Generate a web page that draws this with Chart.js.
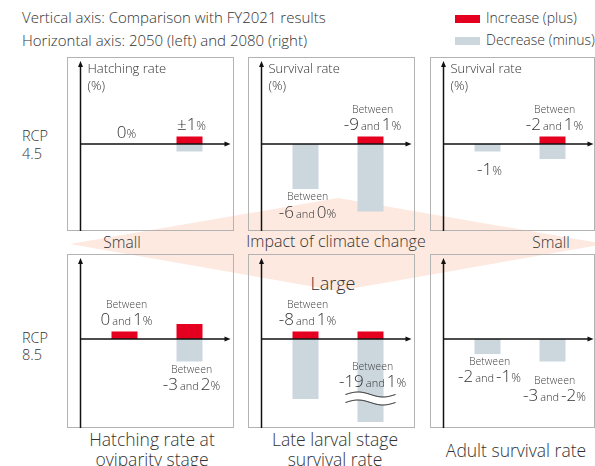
<!DOCTYPE html>
<html><head><meta charset="utf-8">
<script src="https://cdn.jsdelivr.net/npm/chart.js@4.4.1/dist/chart.umd.min.js"></script>
<style>
html,body{margin:0;padding:0;background:#fff;}
#page{position:relative;width:595px;height:466px;overflow:hidden;font-family:"Open Sans",Lato,sans-serif;font-weight:300;color:#333;}
.t{position:absolute;white-space:nowrap;line-height:1;}
.c{transform:translateX(-50%);}
.panel{position:absolute;}
</style></head><body>
<div id="page">
<svg width="595" height="466" style="position:absolute;left:0;top:0"><polygon points="70,244 338,198 605,244 338,291" fill="#fde9e0"/></svg>
<div id="texts"></div>
</div>
<script>
// ---------- data ----------
const categories = ['2050', '2080'];
const rowNames = [['RCP', '4.5'], ['RCP', '8.5']];
const indicatorNames = [['Hatching rate at', 'oviparity stage'], ['Late larval stage', 'survival rate'], ['Adult survival rate']];
const panelTitles = [['Hatching rate', '(%)'], ['Survival rate', '(%)'], ['Survival rate', '(%)']];
const headerLines = ['Vertical axis: Comparison with FY2021 results', 'Horizontal axis: 2050 (left) and 2080 (right)'];
const legendNames = ['Increase (plus)', 'Decrease (minus)'];
const impactLabels = ['Small', 'Impact of climate change', 'Small', 'Large'];

// RCP 4.5 (top row): [2050, 2080] per indicator
const increaseRcp45 = [[0, 1], [0, 1], [0, 1]];
const decreaseRcp45 = [[0, -1], [-6, -9], [-1, -2]];
// RCP 8.5 (bottom row)
const increaseRcp85 = [[1, 2], [1, 1], [0, 0]];
const decreaseRcp85 = [[0, -3], [-8, -19], [-2, -3]];

const valueLabelsRcp45 = [['0%', '±1%'], ['Between -6 and 0%', 'Between -9 and 1%'], ['-1%', 'Between -2 and 1%']];
const valueLabelsRcp85 = [['Between 0 and 1%', 'Between -3 and 2%'], ['Between -8 and 1%', 'Between -19 and 1%'], ['Between -2 and -1%', 'Between -3 and -2%']];

// ---------- layout / style ----------
const RED = '#e60020', GREY = '#cbd6dd', INK = '#333';
const FONT = '"Open Sans", Lato, sans-serif';
const panelLeft = [67, 248, 430];
const panelWidth = [167, 167, 165];
const panelTop = [57, 254];
const PH = 174;
const rowScale = [{min: -11.6, max: 11.6, pb: 0}, {min: -11.07, max: 11.33, pb: 6}];
// label placement: side, extra offset
const placeRcp45 = [[['above', 0], ['above', 0]], [['below', 0], ['above', 0]], [['below', 0], ['above', 0]]];
const placeRcp85 = [[['above', 0], ['below', 0]], [['above', 0], ['over', 0]], [['below', 0], ['below', 11]]];
const breakMark = [[1, 1, 1]]; // row 1, panel 1, bar 1 broken

// ---------- HTML texts ----------
const T = document.getElementById('texts');
function addText(txt, x, cy, size, center, extra) {
  const d = document.createElement('div');
  d.className = 't' + (center ? ' c' : '');
  d.textContent = txt;
  d.style.left = x + 'px';
  d.style.top = (cy - size * 0.6) + 'px';
  d.style.fontSize = size + 'px';
  if (extra) Object.assign(d.style, extra);
  T.appendChild(d);
}
addText(headerLines[0], 22, 19, 15, false);
addText(headerLines[1], 22, 42, 15, false);
[[RED, 15, 19], [GREY, 37, 41]].forEach((s, i) => {
  const r = document.createElement('div');
  r.style.cssText = `position:absolute;left:455px;top:${s[1]}px;width:25px;height:8px;background:${s[0]}`;
  T.appendChild(r);
  addText(legendNames[i], 486, s[2], 14, false);
});
addText(rowNames[0][0], 22, 138, 14.5, false);
addText(rowNames[0][1], 22, 156, 14.5, false);
addText(rowNames[1][0], 22, 340, 14.5, false);
addText(rowNames[1][1], 22, 357, 14.5, false);
addText(impactLabels[0], 122, 244, 15.5, true);
addText(impactLabels[1], 336, 243, 16, true);
addText(impactLabels[2], 551, 244, 15.5, true);
addText(impactLabels[3], 333, 285, 18, true);
addText(indicatorNames[0][0], 152, 441, 17.5, true);
addText(indicatorNames[0][1], 152, 461, 17.5, true);
addText(indicatorNames[1][0], 335, 441, 17.5, true);
addText(indicatorNames[1][1], 335, 461, 17.5, true);
addText(indicatorNames[2][0], 516, 452, 17.5, true);

// ---------- drawing helpers ----------
function fontFor(t) {
  if (/\d/.test(t)) return '300 17px ' + FONT;
  if (t === '%') return '300 12px ' + FONT;
  return '300 11px ' + FONT;
}
function drawMixed(ctx, text, cx, cy) {
  const tokens = text.match(/[-±]?\d+|and|%|\s+/g) || [];
  const w = []; let total = 0;
  tokens.forEach(t => {
    ctx.font = fontFor(t);
    const tw = /^\s+$/.test(t) ? 2 : ctx.measureText(t).width;
    w.push(tw); total += tw;
  });
  let x = cx - total / 2;
  ctx.textAlign = 'left'; ctx.textBaseline = 'alphabetic'; ctx.fillStyle = INK;
  tokens.forEach((t, i) => {
    if (!/^\s+$/.test(t)) { ctx.font = fontFor(t); ctx.fillText(t, x, cy + 6); }
    x += w[i];
  });
}
function drawLabel(ctx, text, cx, bigCy, hasBetween) {
  if (hasBetween) {
    ctx.font = '300 10.5px ' + FONT; ctx.fillStyle = '#444';
    ctx.textAlign = 'center'; ctx.textBaseline = 'middle';
    ctx.fillText('Between', cx, bigCy - 14);
  }
  drawMixed(ctx, text, cx, bigCy);
}

function makePanel(row, col) {
  const W = panelWidth[col];
  const wrap = document.createElement('div');
  wrap.className = 'panel';
  wrap.style.left = panelLeft[col] + 'px';
  wrap.style.top = panelTop[row] + 'px';
  const cv = document.createElement('canvas');
  cv.width = W; cv.height = PH;
  wrap.appendChild(cv);
  document.getElementById('page').appendChild(wrap);
  const inc = row === 0 ? increaseRcp45[col] : increaseRcp85[col];
  const dec = row === 0 ? decreaseRcp45[col] : decreaseRcp85[col];
  const labs = row === 0 ? valueLabelsRcp45[col] : valueLabelsRcp85[col];
  const place = row === 0 ? placeRcp45[col] : placeRcp85[col];
  const sc = rowScale[row];
  const deco = {
    id: 'deco',
    afterDatasetsDraw(chart) {
      const ctx = chart.ctx; const ca = chart.chartArea;
      const ax = ca.left - 11.5;
      const zy = chart.scales.y.getPixelForValue(0);
      ctx.save();
      // border
      ctx.strokeStyle = '#b3b3b3'; ctx.lineWidth = 1;
      ctx.strokeRect(0.5, 0.5, W - 1, PH - 1);
      // break marks
      breakMark.forEach(b => {
        if (b[0] === row && b[1] === col) {
          const el = chart.getDatasetMeta(1).data[b[2]];
          const yc = ca.bottom - 23.5, x0 = el.x - 25, x1 = el.x + 25;
          const wave = (off) => { const pts = []; for (let x = x0; x <= x1; x += 1) pts.push([x, yc + off - 2.5 * Math.sin(2 * Math.PI * (x - x0) / (x1 - x0))]); return pts; };
          const up = wave(-4), lo = wave(4);
          ctx.beginPath(); up.forEach((p, i) => i ? ctx.lineTo(p[0], p[1]) : ctx.moveTo(p[0], p[1]));
          lo.slice().reverse().forEach(p => ctx.lineTo(p[0], p[1])); ctx.closePath();
          ctx.fillStyle = '#fff'; ctx.fill();
          ctx.strokeStyle = '#111'; ctx.lineWidth = 1;
          [up, lo].forEach(pts => { ctx.beginPath(); pts.forEach((p, i) => i ? ctx.lineTo(p[0], p[1]) : ctx.moveTo(p[0], p[1])); ctx.stroke(); });
        }
      });
      // axes
      ctx.strokeStyle = '#111'; ctx.fillStyle = '#111'; ctx.lineWidth = 1.5;
      ctx.beginPath(); ctx.moveTo(ax, PH); ctx.lineTo(ax, 9); ctx.stroke();
      ctx.beginPath(); ctx.moveTo(ax, 4); ctx.lineTo(ax - 2.5, 10); ctx.lineTo(ax + 2.5, 10); ctx.closePath(); ctx.fill();
      ctx.beginPath(); ctx.moveTo(ax, zy); ctx.lineTo(ax + 145, zy); ctx.stroke();
      ctx.beginPath(); ctx.moveTo(ax + 150, zy); ctx.lineTo(ax + 144, zy - 2.5); ctx.lineTo(ax + 144, zy + 2.5); ctx.closePath(); ctx.fill();
      // title
      if (row === 0) {
        ctx.font = '300 13px ' + FONT; ctx.fillStyle = INK; ctx.textAlign = 'left'; ctx.textBaseline = 'middle';
        ctx.fillText(panelTitles[col][0], ax + 7, 12);
        ctx.fillText(panelTitles[col][1], ax + 7, 29);
      }
      // value labels
      labs.forEach((lab, j) => {
        const r = chart.getDatasetMeta(0).data[j];
        const g = chart.getDatasetMeta(1).data[j];
        const hasB = lab.startsWith('Between ');
        const txt = hasB ? lab.slice(8) : lab;
        const cx = r.x + 2;
        const [side, extra] = place[j];
        let bigCy;
        if (side === 'above') bigCy = Math.min(r.y, zy) - 12.5 - extra;
        else if (side === 'below') bigCy = Math.max(g.y, zy) + (hasB ? 22.5 : 17) + extra;
        else bigCy = zy + 28 + 14 + extra;
        drawLabel(ctx, txt, cx, bigCy, hasB);
      });
      ctx.restore();
    }
  };
  new Chart(cv, {
    type: 'bar',
    data: {
      labels: categories,
      datasets: [
        {label: legendNames[0], data: inc, backgroundColor: RED, stack: 's', clip: 0, barPercentage: 0.4, categoryPercentage: 1, borderWidth: 0},
        {label: legendNames[1], data: dec, backgroundColor: GREY, stack: 's', clip: 0, barPercentage: 0.4, categoryPercentage: 1, borderWidth: 0}
      ]
    },
    options: {
      responsive: false, animation: false, events: [],
      layout: {padding: {left: 25, right: W - 155, top: 0, bottom: sc.pb}},
      scales: {
        x: {display: false, stacked: true},
        y: {display: false, stacked: true, min: sc.min, max: sc.max}
      },
      plugins: {legend: {display: false}, tooltip: {enabled: false}}
    },
    plugins: [deco]
  });
}
for (let r = 0; r < 2; r++) for (let c = 0; c < 3; c++) makePanel(r, c);
</script>
</body></html>
